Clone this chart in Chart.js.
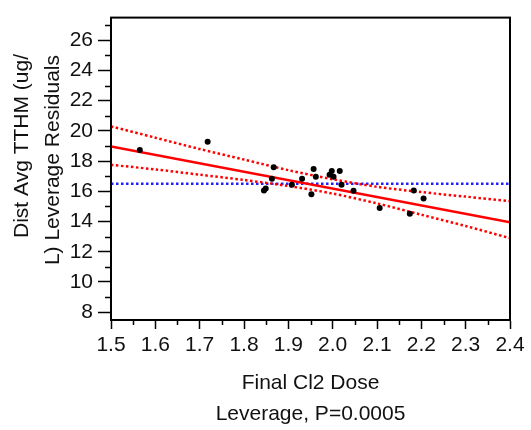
<!DOCTYPE html>
<html>
<head>
<meta charset="utf-8">
<script src="https://cdn.jsdelivr.net/npm/chart.js@4"></script>
<style>
  html, body { margin: 0; padding: 0; background: #fff; }
  #wrap { width: 531px; height: 430px; position: relative; }
</style>
</head>
<body>
<div id="wrap"><canvas id="chart"></canvas></div>
<script>
const DOSE = [1.565, 1.718, 1.845, 1.849, 1.863, 1.867, 1.908, 1.931, 1.952, 1.957, 1.962,
  1.993, 1.998, 2.002, 2.016, 2.020, 2.047, 2.106, 2.174, 2.183, 2.205];
const RESIDUAL = [18.74, 19.28, 16.06, 16.19, 16.83, 17.60, 16.44, 16.83, 15.80, 17.48, 16.96,
  17.09, 17.35, 16.96, 17.35, 16.44, 16.03, 14.90, 14.51, 16.06, 15.52];

const FIT_X = [1.5, 2.4];
const FIT_Y = [18.96, 13.95];

const BAND_X = [1.5, 1.6, 1.7, 1.8, 1.9, 2.0, 2.1, 2.2, 2.3, 2.4];
const BAND_UPPER = [20.30, 19.55, 18.80, 18.10, 17.40, 16.80, 16.30, 15.95, 15.65, 15.35];
const BAND_LOWER = [17.75, 17.45, 17.10, 16.75, 16.35, 15.85, 15.20, 14.45, 13.70, 12.90];

const MEAN_X = [1.5, 2.4];
const MEAN_Y = [16.5, 16.5];

const X_TICKS = [1.5, 1.6, 1.7, 1.8, 1.9, 2.0, 2.1, 2.2, 2.3, 2.4];
const X_MINOR_TICKS = [1.55, 1.65, 1.75, 1.85, 1.95, 2.05, 2.15, 2.25, 2.35];
const Y_TICKS = [8, 10, 12, 14, 16, 18, 20, 22, 24, 26];
const Y_MINOR_TICKS = [9, 11, 13, 15, 17, 19, 21, 23, 25, 27];

const X_TITLE_LINES = ["Final Cl2 Dose", "Leverage, P=0.0005"];
const Y_TITLE_LINES = ["Dist Avg TTHM (ug/", "L) Leverage Residuals"];

const FONT_FAMILY = '"Liberation Sans", Arial, Helvetica, sans-serif';
const FONT_SIZE = 21;
const TEXT_COLOR = "#111";

function toPoints(xs, ys) {
  return xs.map((x, i) => ({ x, y: ys[i] }));
}

// frame, minor ticks and the two-line y title (end aligned like the original)
const extras = {
  id: "extras",
  afterDraw(chart) {
    const { ctx, chartArea: a, scales } = chart;
    ctx.save();
    ctx.strokeStyle = "#000";
    ctx.lineWidth = 2;
    ctx.strokeRect(a.left, a.top, a.right - a.left, a.bottom - a.top);

    ctx.lineWidth = 1.5;
    ctx.beginPath();
    Y_MINOR_TICKS.forEach((v) => {
      const py = Math.round(scales.y.getPixelForValue(v)) + 0.5;
      ctx.moveTo(a.left - 6, py);
      ctx.lineTo(a.left, py);
    });
    X_MINOR_TICKS.forEach((v) => {
      const px = Math.round(scales.x.getPixelForValue(v)) + 0.5;
      ctx.moveTo(px, a.bottom);
      ctx.lineTo(px, a.bottom + 5);
    });
    ctx.stroke();

    ctx.fillStyle = TEXT_COLOR;
    ctx.font = FONT_SIZE + "px " + FONT_FAMILY;
    ctx.textAlign = "right";
    ctx.textBaseline = "alphabetic";
    ctx.rotate(-Math.PI / 2);
    ctx.fillText(Y_TITLE_LINES[0], -54, 28);
    ctx.fillText(Y_TITLE_LINES[1], -55, 59);
    ctx.restore();
  },
};

new Chart(document.getElementById("chart"), {
  type: "scatter",
  data: {
    datasets: [
      {
        label: "Residuals",
        data: toPoints(DOSE, RESIDUAL),
        pointRadius: 3,
        pointBackgroundColor: "#000",
        pointBorderWidth: 0,
        showLine: false,
      },
      {
        label: "Fit",
        data: toPoints(FIT_X, FIT_Y),
        showLine: true,
        borderColor: "#ff0000",
        borderWidth: 2.5,
        pointRadius: 0,
      },
      {
        label: "Upper",
        data: toPoints(BAND_X, BAND_UPPER),
        showLine: true,
        borderColor: "#ff0000",
        borderWidth: 2.5,
        borderDash: [2.5, 2.5],
        tension: 0.3,
        pointRadius: 0,
      },
      {
        label: "Lower",
        data: toPoints(BAND_X, BAND_LOWER),
        showLine: true,
        borderColor: "#ff0000",
        borderWidth: 2.5,
        borderDash: [2.5, 2.5],
        tension: 0.3,
        pointRadius: 0,
      },
      {
        label: "Mean",
        data: toPoints(MEAN_X, MEAN_Y),
        showLine: true,
        borderColor: "#2020ff",
        borderWidth: 2.5,
        borderDash: [2.5, 2.5],
        pointRadius: 0,
      },
    ],
  },
  options: {
    responsive: true,
    maintainAspectRatio: false,
    animation: false,
    layout: { padding: { left: 0, right: 21, top: 11, bottom: 0 } },
    plugins: {
      legend: { display: false },
      tooltip: { enabled: false },
    },
    scales: {
      x: {
        type: "linear",
        min: 1.5,
        max: 2.4,
        afterBuildTicks: (s) => {
          s.ticks = X_TICKS.map((v) => ({ value: v }));
        },
        afterFit: (s) => {
          s.height = 110;
        },
        border: { display: true, color: "#000", width: 2 },
        grid: {
          display: true,
          drawOnChartArea: false,
          drawTicks: true,
          tickLength: 9,
          tickColor: "#000",
          tickWidth: 1.5,
        },
        ticks: {
          color: TEXT_COLOR,
          font: { family: FONT_FAMILY, size: FONT_SIZE },
          padding: 4,
          maxRotation: 0,
          autoSkip: false,
          callback: (v) => Number(v).toFixed(1),
        },
        title: {
          display: true,
          text: X_TITLE_LINES,
          color: TEXT_COLOR,
          font: { family: FONT_FAMILY, size: FONT_SIZE, lineHeight: 31 / FONT_SIZE },
          padding: { top: 0, bottom: 0 },
        },
      },
      y: {
        type: "linear",
        min: 7.48,
        max: 27.5,
        afterBuildTicks: (s) => {
          s.ticks = Y_TICKS.map((v) => ({ value: v }));
        },
        afterFit: (s) => {
          s.width = 111;
        },
        border: { display: true, color: "#000", width: 2 },
        grid: {
          display: true,
          drawOnChartArea: false,
          drawTicks: true,
          tickLength: 13,
          tickColor: "#000",
          tickWidth: 1.5,
        },
        ticks: {
          color: TEXT_COLOR,
          font: { family: FONT_FAMILY, size: FONT_SIZE },
          padding: 5,
          autoSkip: false,
        },
      },
    },
  },
  plugins: [extras],
});
</script>
</body>
</html>
